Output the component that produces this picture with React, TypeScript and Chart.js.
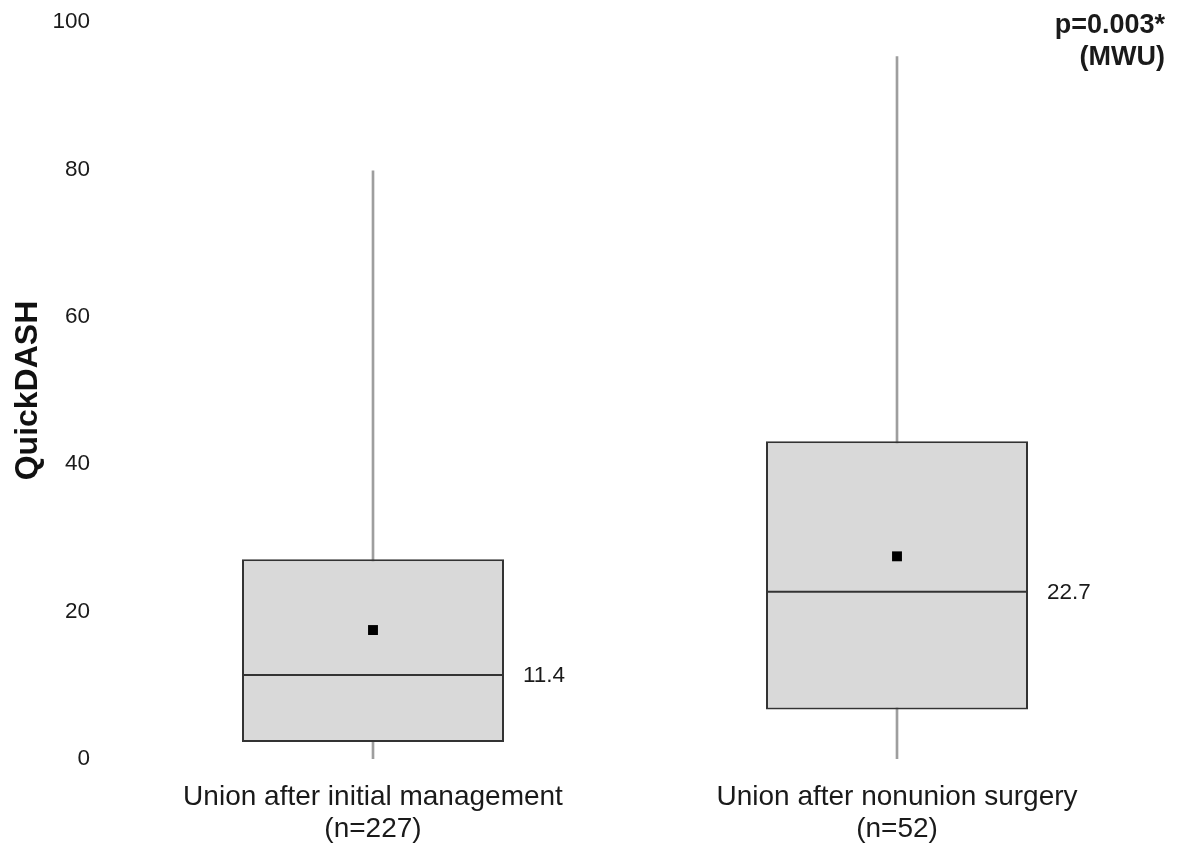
import React, { useEffect, useRef } from "react";
import { Chart, registerables } from "chart.js";

Chart.register(...registerables);

const categories: string[][] = [
  ["Union after initial management", "(n=227)"],
  ["Union after nonunion surgery", "(n=52)"],
];
const whiskerMin: number[] = [0, 0];
const whiskerMax: number[] = [79.8, 95.3];
const q1: number[] = [2.3, 6.7];
const q3: number[] = [27.1, 43.1];
const medians: number[] = [11.4, 22.7];
const means: number[] = [17.5, 27.5];
const yTicks: number[] = [0, 20, 40, 60, 80, 100];
const pValueLines: string[] = ["p=0.003*", "(MWU)"];

const FONT = "'Liberation Sans', Arial, Helvetica, sans-serif";

const annotPlugin = {
  id: "annot",
  afterDatasetsDraw(chart: any) {
    const ctx = chart.ctx;
    const y = chart.scales.y;
    const boxMeta = chart.getDatasetMeta(1);
    ctx.save();
    ctx.fillStyle = "#1a1a1a";
    ctx.font = `22.5px ${FONT}`;
    ctx.textAlign = "left";
    ctx.textBaseline = "middle";
    boxMeta.data.forEach((el: any, i: number) => {
      const props = el.getProps(["x", "width"], true);
      const px = props.x + props.width / 2 + 19;
      const py = y.getPixelForValue(medians[i]);
      ctx.fillText(medians[i].toFixed(1), px, py + 1);
    });
    ctx.font = `bold 27px ${FONT}`;
    ctx.textAlign = "right";
    ctx.textBaseline = "alphabetic";
    ctx.fillText(pValueLines[0], 1165, 33);
    ctx.fillText(pValueLines[1], 1165, 65);
    ctx.restore();
  },
};

function BoxChart() {
  const ref = useRef<HTMLCanvasElement | null>(null);
  useEffect(() => {
    if (!ref.current) return;
    const chart = new Chart(ref.current, {
      type: "bar",
      data: {
        labels: categories as any,
        datasets: [
          {
            type: "bar",
            label: "whisker",
            data: whiskerMin.map((v, i) => [v, whiskerMax[i]]) as any,
            backgroundColor: "#9e9e9e",
            borderWidth: 0,
            barThickness: 2,
            grouped: false,
            order: 4,
          } as any,
          {
            type: "bar",
            label: "box",
            data: q1.map((v, i) => [v, q3[i]]) as any,
            backgroundColor: "#d9d9d9",
            borderColor: "#333333",
            borderWidth: 2,
            borderSkipped: false,
            barPercentage: 0.5,
            categoryPercentage: 1,
            grouped: false,
            order: 3,
          } as any,
          {
            type: "line",
            label: "median",
            data: medians,
            showLine: false,
            clip: false,
            pointStyle: "line",
            pointRadius: 130,
            pointHoverRadius: 130,
            pointBorderColor: "#333333",
            pointBorderWidth: 2,
            order: 2,
          } as any,
          {
            type: "line",
            label: "mean",
            data: means,
            showLine: false,
            pointStyle: "rect",
            pointRadius: 7,
            pointHoverRadius: 7,
            pointBackgroundColor: "#000000",
            pointBorderWidth: 0,
            order: 1,
          } as any,
        ],
      },
      options: {
        animation: false,
        responsive: true,
        maintainAspectRatio: false,
        layout: {
          autoPadding: false,
          padding: { top: 22, right: 19, bottom: 0, left: 0 },
        },
        plugins: {
          legend: { display: false },
          tooltip: { enabled: false },
        },
        scales: {
          x: {
            type: "category",
            offset: true,
            grid: { display: false, drawTicks: false },
            border: { display: false },
            ticks: {
              color: "#1a1a1a",
              font: { family: FONT, size: 28, lineHeight: 1.15 },
              padding: 22,
              maxRotation: 0,
              autoSkip: false,
            },
            afterFit: (scale: any) => {
              scale.height = 86;
              scale.paddingLeft = 0;
              scale.paddingRight = 0;
            },
          },
          y: {
            min: 0,
            max: 100,
            grid: { display: false, drawTicks: false },
            border: { display: false },
            afterBuildTicks: (scale: any) => {
              scale.ticks = yTicks.map((v) => ({ value: v }));
            },
            ticks: {
              color: "#1a1a1a",
              font: { family: FONT, size: 22.5 },
              padding: 21,
            },
            title: {
              display: true,
              text: "QuickDASH",
              color: "#111111",
              font: { family: FONT, size: 32, weight: "bold" },
              padding: { top: 9, bottom: 0 },
            },
            afterFit: (scale: any) => {
              scale.width = 111;
              scale.paddingTop = 0;
              scale.paddingBottom = 0;
            },
          },
        },
      } as any,
      plugins: [annotPlugin],
    });
    return () => chart.destroy();
  }, []);
  return <canvas ref={ref} />;
}

export default function App() {
  return (
    <div
      style={{
        position: "fixed",
        left: 0,
        top: 0,
        width: 1178,
        height: 845,
        background: "#ffffff",
      }}
    >
      <BoxChart />
    </div>
  );
}
